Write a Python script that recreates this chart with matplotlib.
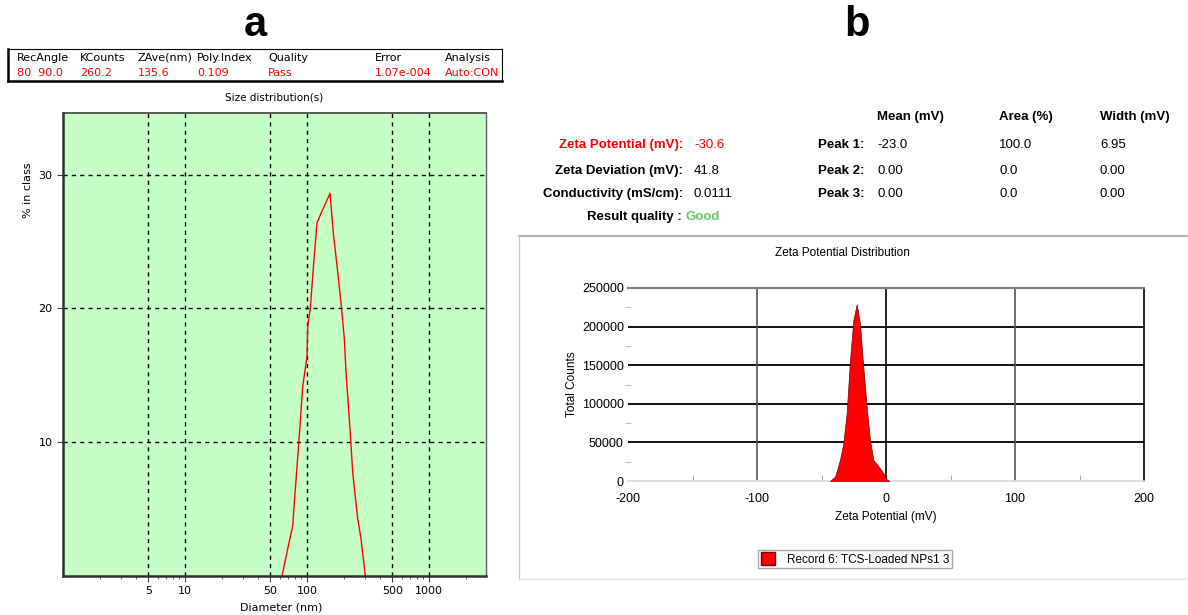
import matplotlib
matplotlib.use('Agg')
import matplotlib.pyplot as plt
import numpy as np
from matplotlib.lines import Line2D
from matplotlib.patches import Patch
from matplotlib.ticker import FixedLocator, LogLocator, NullFormatter

plt.rcParams['axes.unicode_minus'] = False

W, H = 1188, 615

# ---- data (a): size distribution ----
diameter_nm = [62.4, 70.3, 76.4, 78.7, 84.9, 92.3, 100, 101.4, 106.4, 113.5, 120.8, 130.3,
               154.5, 164.4, 178.6, 192.4, 202.2, 208.9, 225, 237, 260.5, 277.3, 300.6]
pct_in_class = [0, 2.26, 3.75, 5.5, 9.5, 14.2, 16.4, 18.7, 20.0, 23.4, 26.4, 27.1,
                28.6, 25.6, 22.7, 19.9, 17.7, 15.2, 11.0, 7.7, 4.25, 2.76, 0]
size_ticks = [5, 10, 50, 100, 500, 1000]
header_cols = ['RecAngle', 'KCounts', 'ZAve(nm)', 'Poly.Index', 'Quality', 'Error', 'Analysis']
header_vals = ['80  90.0', '260.2', '135.6', '0.109', 'Pass', '1.07e-004', 'Auto:CON']

# ---- data (b): zeta potential ----
zeta_mv = [-43.4, -39.5, -35.7, -33.1, -30.5, -27.9, -25.3, -22.7, -20.2, -17.6, -15.0,
           -12.4, -9.8, -7.2, -4.7, -2.1, 0.5, 2.6]
total_counts = [0, 5600, 27200, 48800, 87700, 156700, 208500, 229000, 204000, 148000, 96200,
                53100, 27200, 22000, 16400, 10000, 2200, 0]
info_labels = ['Zeta Potential (mV):', 'Zeta Deviation (mV):', 'Conductivity (mS/cm):']
info_values = ['-30.6', '41.8', '0.0111']
peak_names = ['Peak 1:', 'Peak 2:', 'Peak 3:']
peak_mean = ['-23.0', '0.00', '0.00']
peak_area = ['100.0', '0.0', '0.0']
peak_width = ['6.95', '0.00', '0.00']


def fx(px):
    return px / W


def fy(py):
    return 1 - py / H


fig = plt.figure(figsize=(11.88, 6.15), dpi=100)

# panel letters
fig.text(fx(255), fy(25), 'a', fontsize=30, fontweight='bold', family='Liberation Sans',
         ha='center', va='center')
fig.text(fx(857), fy(25), 'b', fontsize=30, fontweight='bold', family='Liberation Sans',
         ha='center', va='center')

# ---------- panel a ----------
# header box
fig.add_artist(Line2D([fx(8), fx(502)], [fy(49), fy(49)], color='black', lw=0.8))
fig.add_artist(Line2D([fx(8), fx(502)], [fy(81), fy(81)], color='black', lw=1.8))
fig.add_artist(Line2D([fx(8), fx(8)], [fy(49), fy(81)], color='black', lw=1.8))
fig.add_artist(Line2D([fx(502), fx(502)], [fy(49), fy(81)], color='black', lw=0.8))
col_x = [17, 80, 138, 197, 268, 375, 445]
for cx, c, v in zip(col_x, header_cols, header_vals):
    fig.text(fx(cx), fy(58), c, fontsize=8, family='DejaVu Sans', va='center')
    fig.text(fx(cx), fy(73), v, fontsize=8, family='DejaVu Sans', va='center',
             color='#ff0000')
fig.text(fx(274), fy(98), 'Size distribution(s)', fontsize=7.5, family='DejaVu Sans',
         ha='center', va='center')

ax1 = fig.add_axes([fx(63), fy(576), fx(486 - 63), (576 - 113) / H])
ax1.set_facecolor('#c6ffc6')
ax1.plot(diameter_nm, pct_in_class, color='#ff0000', lw=1.0)
ax1.set_xscale('log')
ax1.set_xlim(1, 2930)
ax1.set_ylim(0, 34.6)
ax1.xaxis.set_major_locator(FixedLocator(size_ticks))
ax1.set_xticklabels([str(t) for t in size_ticks])
ax1.xaxis.set_minor_locator(LogLocator(base=10, subs=np.arange(2, 10)))
ax1.xaxis.set_minor_formatter(NullFormatter())
ax1.set_yticks([10, 20, 30])
ax1.tick_params(axis='both', which='major', labelsize=8, direction='out', length=4,
                color='#404040')
ax1.tick_params(axis='x', which='minor', length=2, color='#404040')
for lab in ax1.get_xticklabels() + ax1.get_yticklabels():
    lab.set_family('DejaVu Sans')
ax1.grid(True, which='major', color='black', linestyle=(0, (3, 3)), lw=1.0)
ax1.spines['left'].set_color('#303030')
ax1.spines['left'].set_linewidth(1.8)
ax1.spines['bottom'].set_color('#303030')
ax1.spines['bottom'].set_linewidth(1.8)
ax1.spines['top'].set_color('#404040')
ax1.spines['top'].set_linewidth(1.2)
ax1.spines['right'].set_color('#606060')
ax1.spines['right'].set_linewidth(1.0)
fig.text(fx(28), fy(190), '% in class', rotation=90, fontsize=8, family='DejaVu Sans',
         ha='center', va='center')
fig.text(fx(281), fy(607), 'Diameter (nm)', fontsize=8, family='DejaVu Sans',
         ha='center', va='center')

# ---------- panel b ----------
bold = dict(family='Liberation Sans', fontsize=9.5, fontweight='bold', va='center')
norm = dict(family='Liberation Sans', fontsize=9.5, va='center')
fig.text(fx(877), fy(117), 'Mean (mV)', **bold)
fig.text(fx(999), fy(117), 'Area (%)', **bold)
fig.text(fx(1100), fy(117), 'Width (mV)', **bold)
row_y = [145, 171, 194]
for i in range(3):
    c = '#ff0000' if i == 0 else 'black'
    fig.text(fx(683), fy(row_y[i]), info_labels[i], ha='right', color=c, **bold)
    fig.text(fx(694), fy(row_y[i]), info_values[i], color=c, **norm)
    fig.text(fx(864), fy(row_y[i]), peak_names[i], ha='right', **bold)
    fig.text(fx(877), fy(row_y[i]), peak_mean[i], **norm)
    fig.text(fx(999), fy(row_y[i]), peak_area[i], **norm)
    fig.text(fx(1100), fy(row_y[i]), peak_width[i], **norm)
fig.text(fx(682), fy(217), 'Result quality :', ha='right', **bold)
fig.text(fx(686), fy(217), 'Good', color='#66cc66', **bold)

# frame around the distribution panel
fig.add_artist(Line2D([fx(519), fx(1188)], [fy(236), fy(236)], color='#a8a8a8', lw=1.3))
fig.add_artist(Line2D([fx(519), fx(519)], [fy(236), fy(579)], color='#c8c8c8', lw=1.0))
fig.add_artist(Line2D([fx(519), fx(1188)], [fy(579), fy(579)], color='#e0e0e0', lw=1.0))

fig.text(fx(842), fy(253), 'Zeta Potential Distribution', family='Liberation Sans',
         fontsize=8.5, ha='center', va='center')

ax2 = fig.add_axes([fx(628), fy(481), fx(1144 - 628), (481 - 288) / H])
ax2.fill_between(zeta_mv, total_counts, 0, facecolor='#ff0000', edgecolor='#7a0000',
                 lw=0.5, zorder=3)
ax2.set_xlim(-200, 200)
ax2.set_ylim(0, 250000)
ax2.set_xticks([-200, -100, 0, 100, 200])
ax2.set_yticks([0, 50000, 100000, 150000, 200000, 250000])
ax2.set_xticks([-150, -50, 50, 150], minor=True)
ax2.set_yticks([25000, 75000, 125000, 175000, 225000], minor=True)
ax2.tick_params(axis='x', which='major', length=0, labelsize=9, pad=9)
ax2.tick_params(axis='y', which='major', length=0, labelsize=9, pad=3)
ax2.tick_params(axis='x', which='minor', direction='in', length=4, color='#999999')
ax2.tick_params(axis='y', which='minor', direction='inout', length=4, color='#aaaaaa')
for lab in ax2.get_xticklabels() + ax2.get_yticklabels():
    lab.set_family('Liberation Sans')
for yv in [50000, 100000, 150000, 200000]:
    ax2.axhline(yv, color='black', lw=1.3, zorder=1)
for xv, col in zip([-100, 0, 100], ['#555555', 'black', '#555555']):
    ax2.axvline(xv, color=col, lw=1.2, zorder=1)
ax2.spines['left'].set_visible(False)
ax2.spines['top'].set_color('#808080')
ax2.spines['top'].set_linewidth(1.6)
ax2.spines['right'].set_color('black')
ax2.spines['right'].set_linewidth(1.2)
ax2.spines['bottom'].set_color('#d8d8d8')
ax2.spines['bottom'].set_linewidth(1.2)
fig.text(fx(572), fy(384), 'Total Counts', rotation=90, family='Liberation Sans',
         fontsize=8.5, ha='center', va='center')
fig.text(fx(886), fy(517), 'Zeta Potential (mV)', family='Liberation Sans',
         fontsize=8.5, ha='center', va='center')

leg = fig.legend(handles=[Patch(facecolor='#ff0000', edgecolor='#800000',
                                label='Record 6: TCS-Loaded NPs1 3')],
                 loc='center', bbox_to_anchor=(fx(855), fy(559)), frameon=True,
                 fancybox=False, edgecolor='#909090', prop={'family': 'Liberation Sans',
                                                            'size': 8.5},
                 handlelength=1.2, handleheight=1.2, borderpad=0.25, handletextpad=1.0)
leg.get_frame().set_linewidth(1.0)

plt.savefig('out.png', dpi=100)
